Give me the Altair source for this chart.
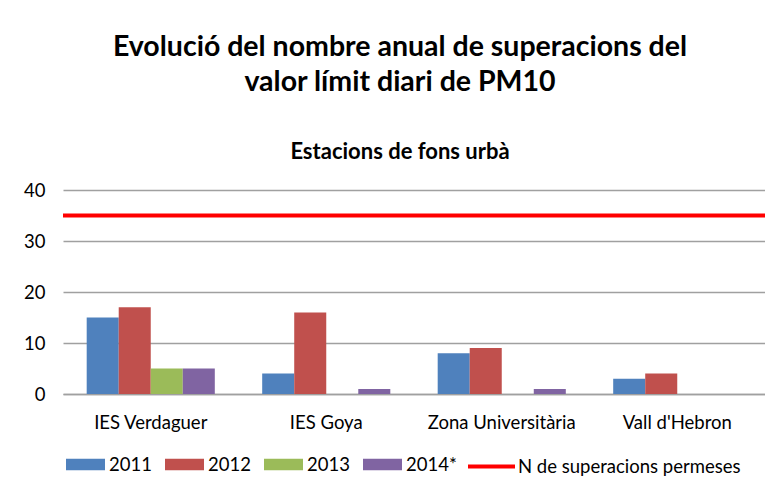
import altair as alt
import pandas as pd

stations = ["IES Verdaguer", "IES Goya", "Zona Universitària", "Vall d'Hebron"]
years = ["2011", "2012", "2013", "2014*"]
v2011 = [15, 4, 8, 3]
v2012 = [17, 16, 9, 4]
v2013 = [5, 0, 0, 0]
v2014 = [5, 1, 1, 0]
year_colors = ["#4F81BD", "#C0504D", "#9BBB59", "#8064A2"]
limit_label = "N de superacions permeses"
limit_value = [35]
limit_color = "#FF0000"
y_ticks = [0, 10, 20, 30, 40]
title_lines = ["Evolució del nombre anual de superacions del", "valor límit diari de PM10"]
subtitle_text = "Estacions de fons urbà"

series = [v2011, v2012, v2013, v2014]
rows = []
for yr, vals in zip(years, series):
    for st, v in zip(stations, vals):
        rows.append({"station": st, "year": yr, "value": v})
df = pd.DataFrame(rows)
limit_df = pd.DataFrame({"label": [limit_label], "value": limit_value})

font = "Lato"
grid_col = "#A0A0A0"
fs = 18.5

bars = alt.Chart(df).mark_bar().encode(
    x=alt.X(
        "station:N", sort=stations,
        scale=alt.Scale(paddingInner=0.27, paddingOuter=0.135),
        axis=alt.Axis(title=None, labelAngle=0, labelFontSize=fs, labelFont=font,
                      labelColor="#000000", labelPadding=19, domainColor=grid_col,
                      domainWidth=1.5, ticks=False),
    ),
    xOffset=alt.XOffset("year:N", sort=years),
    y=alt.Y(
        "value:Q", scale=alt.Scale(domain=[0, 40]),
        axis=alt.Axis(title=None, values=y_ticks, labelFontSize=fs, labelFont=font,
                      labelColor="#000000", labelPadding=18, domain=False, ticks=False,
                      gridColor=grid_col, gridWidth=1.5),
    ),
    color=alt.Color(
        "year:N", sort=years,
        scale=alt.Scale(domain=years, range=year_colors),
        legend=alt.Legend(title=None, orient="none", legendX=3, legendY=255,
                          direction="horizontal", labelFontSize=fs, labelFont=font,
                          labelColor="#000000", symbolType="M-1,-0.3H1V0.3H-1Z",
                          symbolSize=1521, symbolStrokeWidth=0, columnPadding=13,
                          labelOffset=4, padding=0, labelLimit=300),
    ),
)

rule = alt.Chart(limit_df).mark_rule(strokeWidth=4).encode(
    y=alt.Y("value:Q"),
    color=alt.Color(
        "label:N",
        scale=alt.Scale(domain=[limit_label], range=[limit_color]),
        legend=alt.Legend(title=None, orient="none", legendX=403, legendY=251,
                          labelFontSize=fs, labelFont=font, labelColor="#000000",
                          symbolType="stroke", symbolSize=2209, symbolStrokeWidth=4,
                          symbolStrokeColor=limit_color, labelLimit=400,
                          labelOffset=1, padding=0),
    ),
)

chart = (
    alt.layer(bars, rule)
    .resolve_scale(color="independent")
    .properties(
        width=702,
        height=204,
        title=alt.Title(
            text=title_lines, subtitle=subtitle_text, font=font, fontSize=28.5,
            fontWeight="bold", color="#000000", lineHeight=35,
            subtitleFont=font, subtitleFontSize=22, subtitleFontWeight="bold",
            subtitleColor="#000000", subtitlePadding=46, anchor="middle",
            frame="group", offset=18, dx=-14,
        ),
        autosize=alt.AutoSizeParams(type="none"),
        padding={"left": 55, "top": 182, "right": 0, "bottom": 90},
    )
    .configure_view(strokeWidth=0)
)

chart.save("out.html", embed_options={"renderer": "svg", "actions": False})
